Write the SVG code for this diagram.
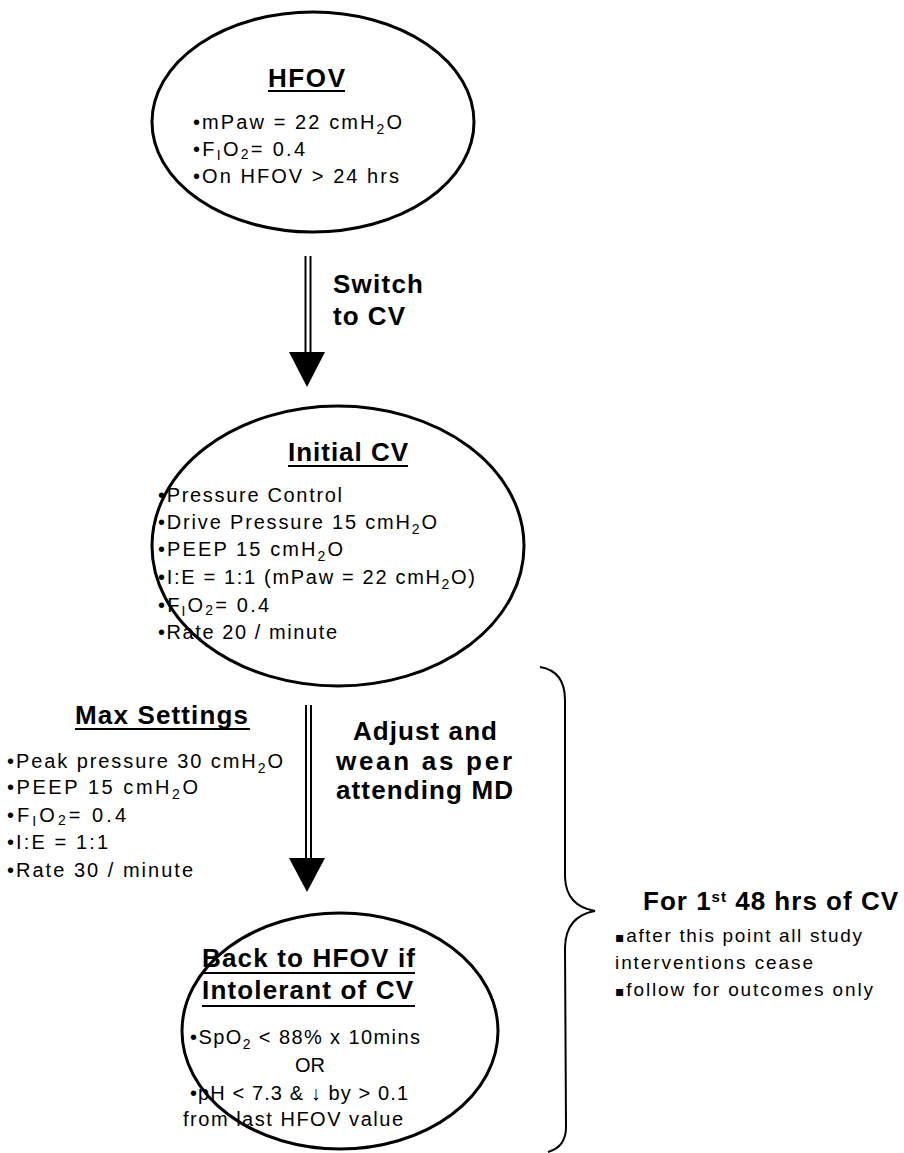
<svg xmlns="http://www.w3.org/2000/svg" width="904" height="1153" viewBox="0 0 904 1153">
<style>
.n{font-family:"Liberation Sans",Arial,sans-serif;font-size:20px;fill:#000}
.r{font-family:"Liberation Sans",Arial,sans-serif;font-size:19px;fill:#000}
.b{font-family:"Liberation Sans",Arial,sans-serif;font-size:26px;font-weight:bold;fill:#000}
.s{font-size:14px}
.sq{font-family:"DejaVu Sans",sans-serif;font-size:14px}
.ell{fill:#fff;stroke:#000;stroke-width:3}
.ul{stroke:#000;stroke-width:2}
.shaft{stroke:#000;stroke-width:2}
.head{fill:#000}
.brace{fill:none;stroke:#000;stroke-width:2}
</style>
<rect width="904" height="1153" fill="#fff"/>
<g id="connectors">
  <line class="shaft" x1="305.5" y1="256" x2="305.5" y2="353"/>
  <line class="shaft" x1="310.5" y1="256" x2="310.5" y2="353"/>
  <polygon class="head" points="289,352 325,352 307,387"/>
  <line class="shaft" x1="306" y1="705" x2="306" y2="859"/>
  <line class="shaft" x1="311" y1="705" x2="311" y2="859"/>
  <polygon class="head" points="289,858 325,858 307,892"/>
  <text class="b" x="333" y="293" textLength="90" lengthAdjust="spacing">Switch</text>
  <text class="b" x="333" y="325" textLength="72" lengthAdjust="spacing">to CV</text>
  <text class="b" x="353" y="740" textLength="144" lengthAdjust="spacing">Adjust and</text>
  <text class="b" x="336" y="770" textLength="176" lengthAdjust="spacing">wean as per</text>
  <text class="b" x="336" y="799" textLength="177" lengthAdjust="spacing">attending MD</text>
</g>
<g id="hfov">
  <ellipse class="ell" cx="313" cy="122" rx="161" ry="110"/>
  <text class="b" x="268" y="87" textLength="77" lengthAdjust="spacing">HFOV</text>
  <line class="ul" x1="268" y1="91" x2="345" y2="91"/>
  <text class="n" x="193" y="129" textLength="209" lengthAdjust="spacing">•mPaw = 22 cmH<tspan class="s" dy="5">2</tspan><tspan dy="-5">O</tspan></text>
  <text class="n" x="193" y="156" textLength="112" lengthAdjust="spacing">•F<tspan class="s" dy="4">I</tspan><tspan dy="-4">O</tspan><tspan class="s" dy="3">2</tspan><tspan dy="-3">= 0.4</tspan></text>
  <text class="n" x="193" y="183" textLength="206" lengthAdjust="spacing">•On HFOV &gt; 24 hrs</text>
</g>
<g id="initial-cv">
  <ellipse class="ell" cx="338" cy="546" rx="186" ry="140"/>
  <text class="b" x="288" y="461" textLength="120" lengthAdjust="spacing">Initial CV</text>
  <line class="ul" x1="288" y1="466" x2="408" y2="466"/>
  <text class="n" x="158" y="502" textLength="184" lengthAdjust="spacing">•Pressure Control</text>
  <text class="n" x="158" y="529" textLength="279" lengthAdjust="spacing">•Drive Pressure 15 cmH<tspan class="s" dy="5">2</tspan><tspan dy="-5">O</tspan></text>
  <text class="n" x="158" y="556" textLength="185" lengthAdjust="spacing">•PEEP 15 cmH<tspan class="s" dy="5">2</tspan><tspan dy="-5">O</tspan></text>
  <text class="n" x="158" y="584" textLength="317" lengthAdjust="spacing">•I:E = 1:1 (mPaw = 22 cmH<tspan class="s" dy="5">2</tspan><tspan dy="-5">O)</tspan></text>
  <text class="n" x="158" y="612" textLength="111" lengthAdjust="spacing">•F<tspan class="s" dy="4">I</tspan><tspan dy="-4">O</tspan><tspan class="s" dy="3">2</tspan><tspan dy="-3">= 0.4</tspan></text>
  <text class="n" x="158" y="639" textLength="179" lengthAdjust="spacing">•Rate 20 / minute</text>
</g>
<g id="max-settings">
  <text class="b" x="75" y="724" textLength="173" lengthAdjust="spacing">Max Settings</text>
  <line class="ul" x1="75" y1="729" x2="250" y2="729"/>
  <text class="n" x="7" y="768" textLength="276" lengthAdjust="spacing">•Peak pressure 30 cmH<tspan class="s" dy="5">2</tspan><tspan dy="-5">O</tspan></text>
  <text class="n" x="7" y="794" textLength="191" lengthAdjust="spacing">•PEEP 15 cmH<tspan class="s" dy="5">2</tspan><tspan dy="-5">O</tspan></text>
  <text class="n" x="7" y="822" textLength="119" lengthAdjust="spacing">•F<tspan class="s" dy="4">I</tspan><tspan dy="-4">O</tspan><tspan class="s" dy="3">2</tspan><tspan dy="-3">= 0.4</tspan></text>
  <text class="n" x="7" y="849" textLength="101" lengthAdjust="spacing">•I:E = 1:1</text>
  <text class="n" x="7" y="877" textLength="186" lengthAdjust="spacing">•Rate 30 / minute</text>
</g>
<g id="back-to-hfov">
  <ellipse class="ell" cx="340" cy="1031" rx="158" ry="118"/>
  <text class="b" x="202" y="967" textLength="213" lengthAdjust="spacing">Back to HFOV if</text>
  <line class="ul" x1="202" y1="973" x2="415" y2="973"/>
  <text class="b" x="202" y="999" textLength="211" lengthAdjust="spacing">Intolerant of CV</text>
  <line class="ul" x1="202" y1="1006" x2="415" y2="1006"/>
  <text class="n" x="190" y="1044" textLength="230" lengthAdjust="spacing">•SpO<tspan class="s" dy="5">2</tspan><tspan dy="-5"> &lt; 88% x 10mins</tspan></text>
  <text class="n" x="310" y="1072" text-anchor="middle">OR</text>
  <text class="n" x="190" y="1100" textLength="218" lengthAdjust="spacing">•pH &lt; 7.3 &amp; ↓ by &gt; 0.1</text>
  <text class="n" x="183" y="1126" textLength="220" lengthAdjust="spacing">from last HFOV value</text>
</g>
<g id="brace-note">
  <path class="brace" d="M540 667 Q565 671 565 700 L565 877 Q566 906 595 911 Q566 916 565 947 L566 1127 Q566 1147 548 1152"/>
  <text class="b" x="643" y="910" textLength="255" lengthAdjust="spacing">For 1<tspan font-size="15" dy="-8">st</tspan><tspan dy="8"> 48 hrs of CV</tspan></text>
  <text class="r" x="615" y="942" textLength="247" lengthAdjust="spacing"><tspan class="sq">▪</tspan>after this point all study</text>
  <text class="r" x="615" y="969" textLength="198" lengthAdjust="spacing">interventions cease</text>
  <text class="r" x="615" y="996" textLength="258" lengthAdjust="spacing"><tspan class="sq">▪</tspan>follow for outcomes only</text>
</g>
</svg>
